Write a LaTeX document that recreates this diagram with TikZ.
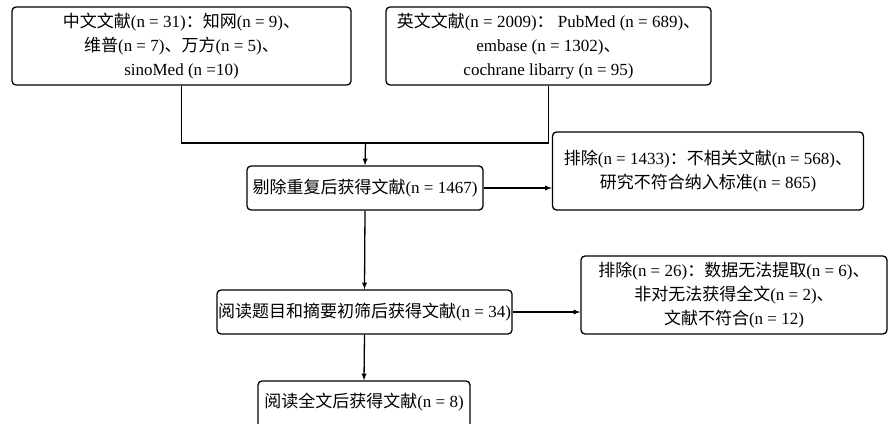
\documentclass[tikz,border=0pt]{standalone}
\usepackage{fontspec}
\setmainfont{Liberation Serif}
\newfontfamily\cjk{Noto Sans CJK SC}
\newcommand{\zhw}[1]{{\cjk #1}}
\usepackage{tikz}
\usetikzlibrary{arrows,calc,positioning}

\begin{document}
\begin{tikzpicture}[x=1pt,y=-1pt,>=latex,line width=1.3pt,
box/.style={draw, rounded corners=4pt, align=center, inner sep=0pt, font=\fontsize{17}{24}\selectfont},
arr/.style={->, shorten >=0pt}]

    \clip (0,0) rectangle (888,423);

    \node[box, minimum width=339pt, minimum height=78pt] at (181.5,46) (zhdb)
        {\zhw{中文文献}(n = 31)\zhw{：知网}(n = 9)\zhw{、}\\
         \zhw{维普}(n = 7)\zhw{、万方}(n = 5)\zhw{、}\\
         sinoMed (n =10)};
    \node[box, minimum width=325pt, minimum height=78pt] at (548.5,46) (endb)
        {\zhw{英文文献}(n = 2009)\zhw{：} PubMed (n = 689)\zhw{、}\\
         embase (n = 1302)\zhw{、}\\
         cochrane libarry (n = 95)};

    \node[box, minimum width=236pt, minimum height=44pt] at (365,188) (dedup)
        {\zhw{剔除重复后获得文献}(n = 1467)};
    \node[box, minimum width=311pt, minimum height=78pt] at (708,171) (excl1)
        {\zhw{排除}(n = 1433)\zhw{：不相关文献}(n = 568)\zhw{、}\\
         \zhw{研究不符合纳入标准}(n = 865)};

    \node[box, minimum width=295pt, minimum height=44pt] at (364.5,312) (screen)
        {\zhw{阅读题目和摘要初筛后获得文献}(n = 34)};
    \node[box, minimum width=306pt, minimum height=78pt] at (734,295) (excl2)
        {\zhw{排除}(n = 26)\zhw{：数据无法提取}(n = 6)\zhw{、}\\
         \zhw{非对无法获得全文}(n = 2)\zhw{、}\\
         \zhw{文献不符合}(n = 12)};

    \node[box, minimum width=212pt, minimum height=60pt, text depth=0pt] at (364,411) (full) {};
    \node[font=\fontsize{17}{24}\selectfont, inner sep=0pt] at (364,402) (fulltxt)
        {\zhw{阅读全文后获得文献}(n = 8)};

    %merge both searches
    \coordinate (join) at (365.5,143);
    \draw (zhdb.south) |- (join) -| (endb.south);
    \draw[arr] (join) -- (dedup.north);

    \draw[arr] (dedup.east) -- (dedup.east -| excl1.west);
    \draw[arr] (dedup.south) -- (screen.north);
    \draw[arr] (screen.east) -- (screen.east -| excl2.west);
    \draw[arr] (screen.south) -- (full.north);
\end{tikzpicture}
\end{document}
